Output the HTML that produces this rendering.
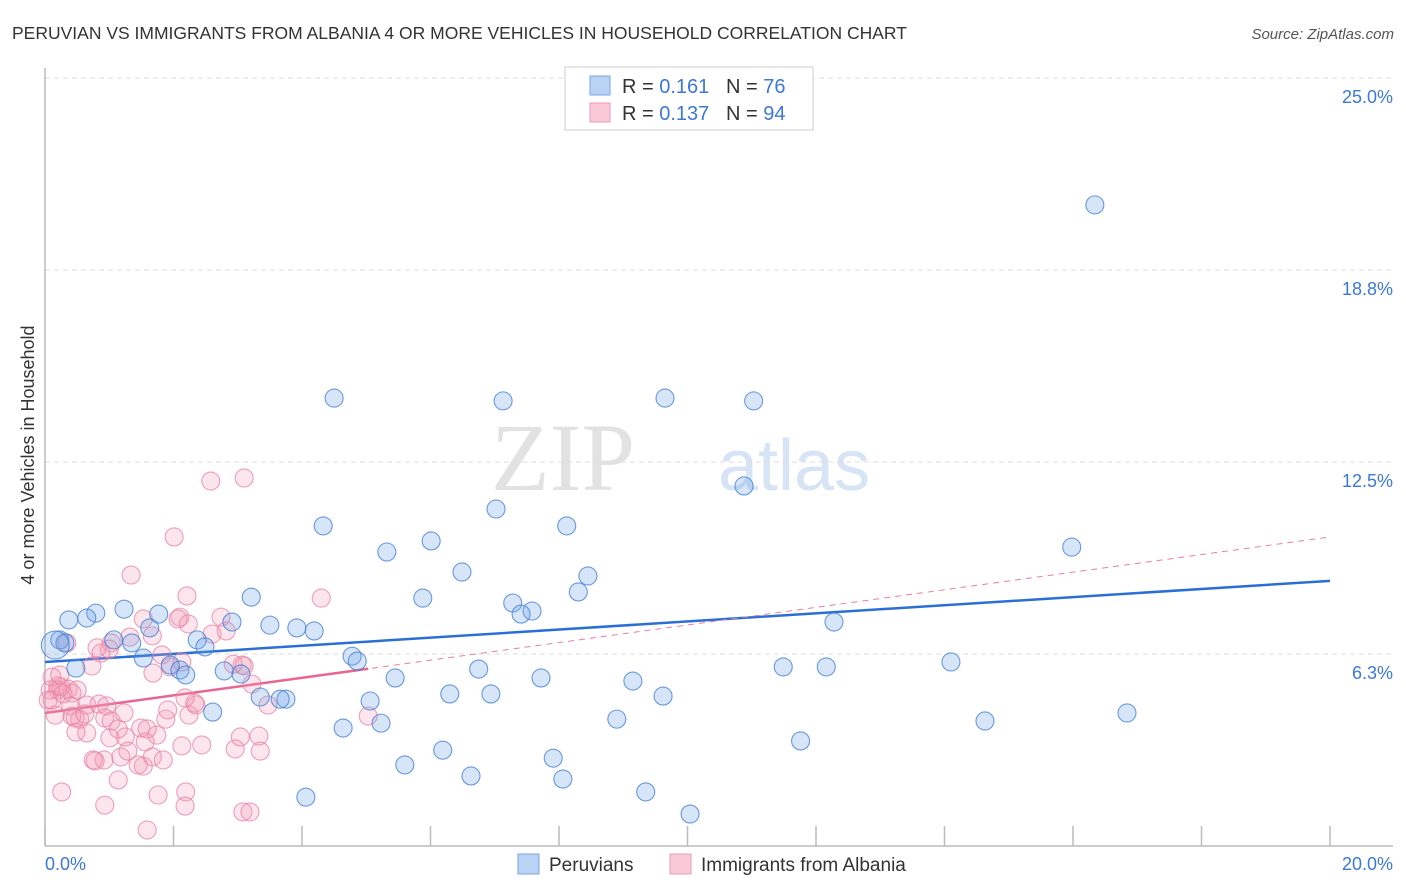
<!DOCTYPE html>
<html><head><meta charset="utf-8">
<style>
body{margin:0;background:#fff;font-family:"Liberation Sans",sans-serif;}
#wrap{position:relative;width:1406px;height:892px;overflow:hidden;}
</style></head>
<body><div id="wrap">
<svg id="svg" width="1406" height="892" xmlns="http://www.w3.org/2000/svg">
<text x="12" y="39" font-size="17.5" fill="#333">PERUVIAN VS IMMIGRANTS FROM ALBANIA 4 OR MORE VEHICLES IN HOUSEHOLD CORRELATION CHART</text>
<text x="1394" y="39" font-size="15" fill="#555" font-style="italic" text-anchor="end">Source: ZipAtlas.com</text>
<text x="34" y="455" font-size="18" fill="#333" text-anchor="middle" transform="rotate(-90 34 455)">4 or more Vehicles in Household</text>
<g><text x="635" y="490" font-size="96" fill="#e2e2e2" text-anchor="end" font-family="Liberation Serif,serif">ZIP</text><text x="718" y="490" font-size="72" fill="#d6e4f5">atlas</text></g>
<g id="grid"></g><g id="axes"></g><g id="trend"></g><g id="pts"></g>
<g>
<rect x="565" y="67" width="248" height="63" fill="#fff" stroke="#ccc"/>
<rect x="590" y="76" width="20" height="19" fill="#b9d3f4" stroke="#7aa6e3"/>
<rect x="590" y="103" width="20" height="19" fill="#f9c8d6" stroke="#ee9cb5"/>
<text x="622" y="93" font-size="20" fill="#333">R = <tspan fill="#3b78d8">0.161</tspan></text>
<text x="726" y="93" font-size="20" fill="#333">N = <tspan fill="#3b78d8">76</tspan></text>
<text x="622" y="120" font-size="20" fill="#333">R = <tspan fill="#3b78d8">0.137</tspan></text>
<text x="726" y="120" font-size="20" fill="#333">N = <tspan fill="#3b78d8">94</tspan></text>
</g>
<g>
<rect x="518" y="854" width="21" height="20" fill="#b9d3f4" stroke="#7aa6e3"/>
<text x="549" y="871" font-size="19" fill="#333">Peruvians</text>
<rect x="670" y="854" width="21" height="20" fill="#f9c8d6" stroke="#ee9cb5"/>
<text x="701" y="871" font-size="19" fill="#333">Immigrants from Albania</text>
</g>
</svg>
<script>
const yTicks=[25,18.75,12.5,6.25];
const yTickLabels=["25.0%","18.8%","12.5%","6.3%"];
const xTickVals=[0,2,4,6,8,10,12,14,16,18,20];
const blueX=[16.34,4.50,7.13,9.65,11.03,10.88,7.02,4.33,8.12,15.98,5.32,6.01,6.49,8.45,8.30,5.88,3.21,7.28,7.58,7.41,0.79,1.23,1.77,0.65,0.37,12.28,2.91,3.50,3.92,4.19,1.63,0.23,1.07,1.35,2.37,2.49,1.53,4.78,4.86,1.95,2.10,2.19,2.79,3.05,6.75,11.49,12.16,14.10,0.48,5.45,7.72,9.15,6.30,6.94,9.62,3.35,3.75,3.66,5.06,2.61,16.84,8.90,14.63,4.64,5.23,11.76,6.19,5.60,7.91,6.63,8.06,9.35,4.06,10.04,0.31,0.16];
const blueY=[20.87,14.58,14.49,14.58,14.49,11.72,10.97,10.42,10.42,9.73,9.57,9.93,8.92,8.79,8.27,8.07,8.10,7.91,7.65,7.55,7.58,7.71,7.55,7.42,7.36,7.29,7.29,7.19,7.10,7.00,7.10,6.71,6.71,6.61,6.71,6.48,6.12,6.18,6.02,5.89,5.73,5.57,5.70,5.60,5.76,5.83,5.83,5.99,5.79,5.47,5.47,5.37,4.95,4.95,4.88,4.85,4.78,4.78,4.72,4.36,4.33,4.13,4.07,3.84,4.00,3.42,3.12,2.64,2.86,2.28,2.18,1.76,1.59,1.04,6.61,6.54];
const pinkX=[2.58,3.10,2.01,1.34,2.21,4.30,1.53,2.10,1.03,1.67,2.07,2.23,2.60,2.74,1.82,1.95,2.13,1.00,0.87,0.81,1.32,0.73,1.68,0.34,0.36,0.42,0.50,0.20,0.08,0.05,0.11,0.16,0.20,0.25,0.28,0.40,0.65,0.54,0.42,0.47,0.84,0.96,0.93,1.03,1.23,1.14,1.25,0.62,1.01,0.65,0.92,0.75,0.78,1.18,1.29,1.49,1.56,1.67,1.74,1.53,1.59,2.13,1.88,2.24,2.35,1.91,2.33,2.44,3.04,2.96,3.33,3.07,2.93,2.82,2.18,3.10,3.22,3.35,1.84,1.14,1.45,0.26,0.93,1.76,2.19,2.18,1.59,3.08,3.19,5.03,3.47,0.48,0.11,0.23];
const pinkY=[11.88,11.98,10.06,8.82,8.14,8.07,7.39,7.45,6.61,6.84,7.39,7.23,6.90,7.45,6.22,5.83,5.99,6.41,6.28,6.45,6.80,5.86,5.63,6.61,5.11,4.98,5.08,5.08,5.08,4.75,4.75,4.26,5.21,5.18,4.95,4.56,4.59,4.13,4.23,4.17,4.62,4.56,4.17,4.07,4.33,3.81,3.55,4.30,3.52,3.68,2.80,2.80,2.77,2.90,3.09,3.84,3.39,2.90,3.61,2.60,3.81,3.26,4.13,4.26,4.59,4.43,4.65,3.29,3.55,3.16,3.58,5.89,5.92,7.00,4.82,5.86,5.27,3.09,2.80,2.15,2.64,1.76,1.33,1.66,1.76,1.30,0.52,1.11,1.11,4.23,4.59,3.71,5.50,5.57];
const blueTrend=[5.99,8.63];
const pinkTrend=[4.33,10.06];
const pinkSolidEnd=5.03;
const NS="http://www.w3.org/2000/svg";
const X0=45,X1=1330,Y0=846,Y25=78;
function xs(v){return X0+(X1-X0)*v/20;}
function ys(v){return Y0-(Y0-Y25)*v/25;}
function mk(tag,attrs,parent){const e=document.createElementNS(NS,tag);for(const k in attrs)e.setAttribute(k,attrs[k]);document.getElementById(parent).appendChild(e);return e;}
yTicks.forEach((t,i)=>{
 const l=mk('line',{x1:X0,x2:1393,y1:ys(t),y2:ys(t),stroke:'#ddd','stroke-dasharray':'5,4'},'grid');
 
 
 const tx=mk('text',{x:1393,y:ys(t)+25,'font-size':18,fill:'#3b78d8','text-anchor':'end'},'grid');
 tx.textContent=yTickLabels[i];
 
 
});
mk('line',{x1:X0,x2:X0,y1:68,y2:Y0,stroke:'#bbb','stroke-width':1.5},'axes');
mk('line',{x1:X0,x2:1393,y1:Y0,y2:Y0,stroke:'#bbb','stroke-width':1.5},'axes');
xTickVals.forEach(v=>{const t=mk('line',{x1:xs(v),x2:xs(v),y1:826,y2:Y0,stroke:'#bbb','stroke-width':1.5},'axes');
 
 });
let a=mk('text',{x:45,y:870,'font-size':18,fill:'#3b78d8'},'axes');a.textContent='0.0%';


a=mk('text',{x:1393,y:870,'font-size':18,fill:'#3b78d8','text-anchor':'end'},'axes');a.textContent='20.0%';


function drawPts(X,Y,fill,stroke,name){X.forEach((x,i)=>{
 const big=(name==='peruvian-point'&&i===X.length-1);
 const c=mk('circle',{cx:xs(x),cy:ys(Y[i]),r:big?14:9,fill:fill,stroke:stroke,'stroke-width':1.1},'pts');
 
 
});}
drawPts(pinkX,pinkY,'rgba(242,150,178,0.25)','rgba(232,130,162,0.75)','albania-point');
drawPts(blueX,blueY,'rgba(110,160,230,0.28)','rgba(70,130,215,0.8)','peruvian-point');
const bl=mk('line',{x1:xs(0),y1:ys(blueTrend[0]),x2:xs(20),y2:ys(blueTrend[1]),stroke:'#2a6fd6','stroke-width':2.5},'trend');


const pAt=v=>pinkTrend[0]+(pinkTrend[1]-pinkTrend[0])*v/20;
const pd=mk('line',{x1:xs(0),y1:ys(pinkTrend[0]),x2:xs(20),y2:ys(pinkTrend[1]),stroke:'#e87fa0','stroke-width':1,'stroke-dasharray':'6,5'},'trend');


const ps=mk('line',{x1:xs(0),y1:ys(pinkTrend[0]),x2:xs(pinkSolidEnd),y2:ys(pAt(pinkSolidEnd)),stroke:'#e8668f','stroke-width':2.5},'trend');


</script>
</div></body></html>
